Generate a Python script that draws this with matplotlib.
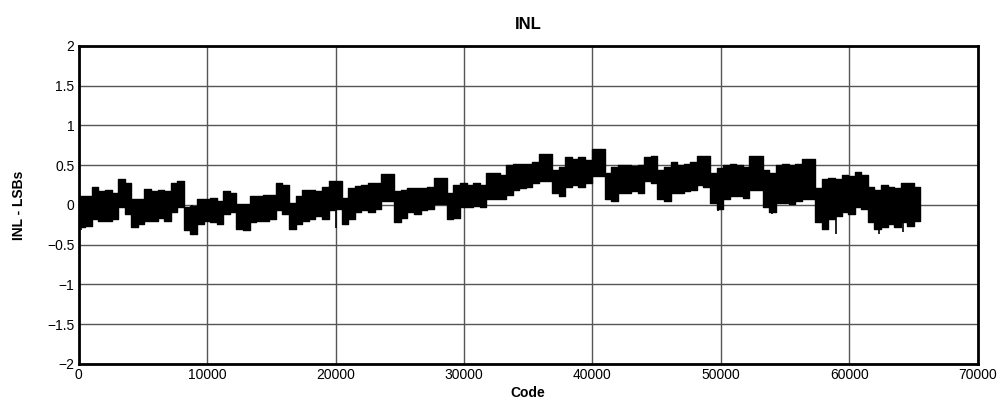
import numpy as np
import matplotlib.pyplot as plt

plt.rcParams['font.family'] = ['Liberation Sans', 'DejaVu Sans']

# INL trace in bins of 512 codes:
# top and bottom of the noisy band in each bin (LSBs)
bin_width = 512
inl_top = [0.11, 0.11, 0.23, 0.17, 0.19, 0.15, 0.32, 0.27,
           0.07, 0.07, 0.20, 0.17, 0.19, 0.17, 0.27, 0.30,
           -0.03, -0.01, 0.08, 0.08, 0.09, 0.05, 0.18, 0.15,
           0.01, 0.01, 0.11, 0.11, 0.13, 0.13, 0.27, 0.25,
           0.03, 0.11, 0.19, 0.19, 0.18, 0.23, 0.30, 0.30,
           0.09, 0.21, 0.24, 0.25, 0.27, 0.27, 0.39, 0.39,
           0.17, 0.19, 0.21, 0.21, 0.21, 0.23, 0.34, 0.34,
           0.15, 0.25, 0.27, 0.25, 0.27, 0.25, 0.40, 0.40,
           0.38, 0.50, 0.51, 0.52, 0.52, 0.54, 0.64, 0.64,
           0.44, 0.48, 0.60, 0.58, 0.60, 0.56, 0.70, 0.70,
           0.40, 0.48, 0.50, 0.50, 0.49, 0.50, 0.60, 0.62,
           0.44, 0.48, 0.54, 0.50, 0.52, 0.54, 0.62, 0.62,
           0.40, 0.46, 0.50, 0.52, 0.50, 0.48, 0.62, 0.62,
           0.44, 0.40, 0.50, 0.52, 0.50, 0.52, 0.58, 0.58,
           0.21, 0.32, 0.34, 0.32, 0.38, 0.36, 0.42, 0.38,
           0.23, 0.19, 0.25, 0.23, 0.21, 0.27, 0.27, 0.23]
inl_bottom = [-0.28, -0.26, -0.18, -0.20, -0.20, -0.18, -0.03, -0.11,
              -0.28, -0.24, -0.20, -0.20, -0.16, -0.20, -0.09, -0.03,
              -0.32, -0.36, -0.24, -0.20, -0.22, -0.24, -0.11, -0.09,
              -0.30, -0.32, -0.22, -0.20, -0.20, -0.18, -0.07, -0.11,
              -0.30, -0.24, -0.20, -0.18, -0.14, -0.18, -0.07, -0.05,
              -0.24, -0.18, -0.09, -0.07, -0.09, -0.05, 0.05, 0.05,
              -0.22, -0.16, -0.09, -0.11, -0.07, -0.05, 0.01, 0.01,
              -0.18, -0.16, -0.03, -0.03, -0.01, -0.03, 0.07, 0.07,
              0.07, 0.13, 0.19, 0.21, 0.23, 0.27, 0.30, 0.30,
              0.15, 0.11, 0.23, 0.25, 0.23, 0.27, 0.36, 0.36,
              0.07, 0.05, 0.15, 0.15, 0.17, 0.15, 0.30, 0.28,
              0.07, 0.05, 0.15, 0.15, 0.17, 0.19, 0.25, 0.23,
              0.03, -0.05, 0.07, 0.11, 0.11, 0.09, 0.19, 0.19,
              -0.03, -0.09, 0.03, 0.03, 0.01, 0.05, 0.07, 0.07,
              -0.22, -0.30, -0.18, -0.14, -0.09, -0.11, -0.03, -0.05,
              -0.22, -0.30, -0.28, -0.24, -0.28, -0.22, -0.26, -0.20]
last_code = 65535

# a few isolated spikes that stick out below the band
spike_code = [200, 8800, 20000, 49800, 54000, 59000, 62300, 64200]
spike_low = [-0.31, -0.38, -0.29, -0.08, -0.12, -0.36, -0.37, -0.34]

bin_start = np.arange(len(inl_top)) * bin_width
x_step = np.append(bin_start, last_code)
top_step = inl_top + [inl_top[-1]]
bot_step = inl_bottom + [inl_bottom[-1]]

fig = plt.figure(figsize=(10.08, 4.03), dpi=100)
ax = fig.add_axes([0.078, 0.097, 0.892, 0.789])

ax.fill_between(x_step, bot_step, top_step, step='post', color='black',
                linewidth=1.0, edgecolor='black', zorder=3)
ax.vlines(spike_code, 0, spike_low, color='black', linewidth=1.2, zorder=3)

ax.set_xlim(0, 70000)
ax.set_ylim(-2, 2)
ax.set_xticks(np.arange(0, 70001, 10000))
ax.set_yticks([-2, -1.5, -1, -0.5, 0, 0.5, 1, 1.5, 2])
ax.set_yticklabels(['\u22122', '\u22121.5', '\u22121', '\u22120.5', '0',
                    '0.5', '1', '1.5', '2'])
ax.tick_params(length=0, labelsize=10, pad=3)
ax.grid(True, color='#555555', linewidth=1.0, zorder=1)
ax.set_axisbelow(True)
for sp in ax.spines.values():
    sp.set_linewidth(2.0)

ax.set_title('INL', fontsize=12, fontweight='bold', pad=12)
ax.set_xlabel('Code', fontsize=10, fontweight='bold', labelpad=3)
ax.set_ylabel('INL - LSBs', fontsize=10, fontweight='bold', labelpad=15)

fig.savefig('out.png', dpi=100)
